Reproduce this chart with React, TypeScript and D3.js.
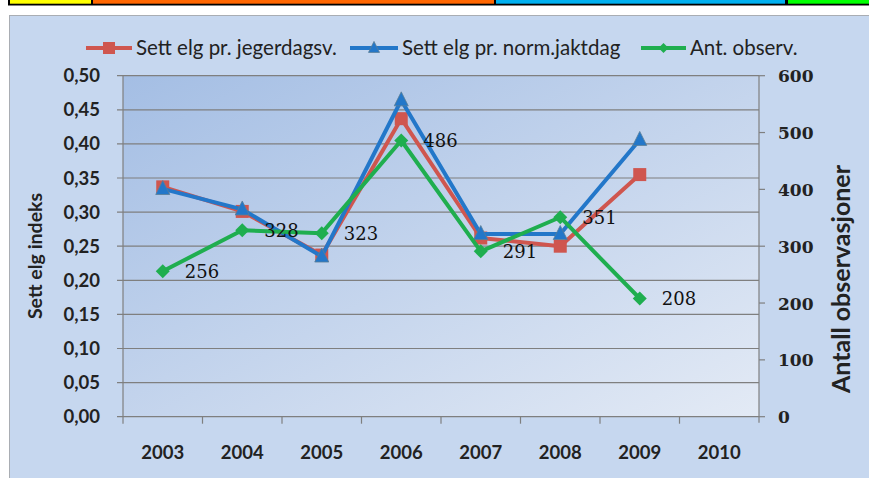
import React from 'react';
import * as d3 from 'd3';

const years = ['2003', '2004', '2005', '2006', '2007', '2008', '2009', '2010'];
const jegerdagsv = [0.337, 0.301, 0.237, 0.437, 0.262, 0.25, 0.355];
const normJaktdag = [0.334, 0.304, 0.235, 0.464, 0.268, 0.268, 0.406];
const observ = [256, 328, 323, 486, 291, 351, 208];
const leftTicks = [0, 0.05, 0.1, 0.15, 0.2, 0.25, 0.3, 0.35, 0.4, 0.45, 0.5];
const rightTicks = [0, 100, 200, 300, 400, 500, 600];

const RED = '#cf564f';
const BLUE = '#2377c9';
const GREEN = '#1fae4f';
const SANS = 'Lato, "Open Sans", sans-serif';
const SERIF = '"DejaVu Serif", serif';

export default function App() {
  const W = 869;
  const H = 478;
  const plot = { left: 123, right: 759, top: 75.7, bottom: 416.7 };

  const x = d3.scaleBand<string>().domain(years).range([plot.left, plot.right]);
  const cx = (i: number) => (x(years[i]) as number) + x.bandwidth() / 2;
  const yL = d3.scaleLinear().domain([0, 0.5]).range([plot.bottom, plot.top]);
  const yR = d3.scaleLinear().domain([0, 600]).range([plot.bottom, plot.top]);

  const lineL = d3.line<number>().x((_, i) => cx(i)).y(d => yL(d));
  const lineR = d3.line<number>().x((_, i) => cx(i)).y(d => yR(d));
  const fmt = (v: number) => d3.format('.2f')(v).replace('.', ',');

  const square = (px: number, py: number, s = 13) => (
    <rect x={px - s / 2} y={py - s / 2} width={s} height={s} fill={RED} />
  );
  const triangle = (px: number, py: number, s = 14) => (
    <path
      d={`M${px},${py - s * 0.6}L${px + s / 2},${py + s * 0.4}L${px - s / 2},${py + s * 0.4}Z`}
      fill={BLUE}
      stroke="#5b7d95"
      strokeWidth={0.8}
    />
  );
  const diamond = (px: number, py: number, s = 7) => (
    <path d={`M${px},${py - s}L${px + s},${py}L${px},${py + s}L${px - s},${py}Z`} fill={GREEN} />
  );

  // legend entries: line start, line width, text start
  const legend = [
    { x: 86, w: 46, tx: 136, color: RED, label: 'Sett elg pr. jegerdagsv.', mark: square, s: 12 },
    { x: 350, w: 48, tx: 402, color: BLUE, label: 'Sett elg pr. norm.jaktdag', mark: triangle, s: 11 },
    { x: 641, w: 45, tx: 690, color: GREEN, label: 'Ant. observ.', mark: diamond, s: 5 },
  ];

  return (
    <svg
      width={W}
      height={H}
      style={{ position: 'fixed', left: 0, top: 0, background: '#fff' }}
      viewBox={`0 0 ${W} ${H}`}
    >
      <defs>
        <linearGradient id="plotBg" x1="0" y1="0" x2="1" y2="1">
          <stop offset="0%" stopColor="#a4bee4" />
          <stop offset="100%" stopColor="#e3eaf5" />
        </linearGradient>
      </defs>

      {/* top colour strip */}
      <rect x={8} y={-6} width={870} height={11.5} fill="#000" />
      <rect x={10} y={-6} width={81} height={9.7} fill="#ffff00" />
      <rect x={93} y={-6} width={401} height={9.7} fill="#ff6600" />
      <rect x={496} y={-6} width={289} height={9.7} fill="#00b0f0" />
      <rect x={788} y={-6} width={90} height={9.7} fill="#00ff00" />

      {/* panel */}
      <rect x={9.5} y={15.5} width={880} height={480} fill="#c6d7ef" stroke="#a9adb3" />
      <rect
        x={plot.left}
        y={plot.top}
        width={plot.right - plot.left}
        height={plot.bottom - plot.top}
        fill="url(#plotBg)"
      />

      {/* legend */}
      {legend.map(l => (
        <g key={l.label}>
          <line x1={l.x} x2={l.x + l.w} y1={48} y2={48} stroke={l.color} strokeWidth={4} />
          {l.mark(l.x + l.w / 2, 48, l.s)}
          <text x={l.tx} y={55} fontFamily={SANS} fontSize={20.5} fill="#222">
            {l.label}
          </text>
        </g>
      ))}

      {/* grid + left axis */}
      {leftTicks.map(t => (
        <g key={t}>
          <line x1={plot.left - 6} x2={plot.right} y1={yL(t)} y2={yL(t)} stroke="#7f7f7f" strokeWidth={1.2} />
          <text
            x={100}
            y={yL(t) + 6.5}
            textAnchor="end"
            fontFamily={SANS}
            fontWeight="bold"
            fontSize={18.5}
            fill="#222"
          >
            {fmt(t)}
          </text>
        </g>
      ))}
      <line x1={plot.left} x2={plot.left} y1={plot.top} y2={plot.bottom} stroke="#7f7f7f" strokeWidth={1.2} />

      {/* right axis */}
      <line x1={plot.right} x2={plot.right} y1={plot.top} y2={plot.bottom + 6} stroke="#7f7f7f" strokeWidth={1.2} />
      {rightTicks.map(t => (
        <g key={t}>
          <line x1={plot.right} x2={plot.right + 6} y1={yR(t)} y2={yR(t)} stroke="#7f7f7f" strokeWidth={1.2} />
          <text x={778} y={yR(t) + 6.5} fontFamily={SERIF} fontWeight="bold" fontSize={17} fill="#222">
            {t}
          </text>
        </g>
      ))}

      {/* x axis */}
      {years.map(yr => (
        <g key={yr}>
          <line
            x1={x(yr) as number}
            x2={x(yr) as number}
            y1={plot.bottom}
            y2={plot.bottom + 7}
            stroke="#7f7f7f"
            strokeWidth={1.2}
          />
          <text
            x={(x(yr) as number) + x.bandwidth() / 2}
            y={459}
            textAnchor="middle"
            fontFamily={SANS}
            fontWeight="bold"
            fontSize={18.5}
            fill="#222"
          >
            {yr}
          </text>
        </g>
      ))}

      {/* axis titles */}
      <text
        transform="translate(42,256) rotate(-90)"
        textAnchor="middle"
        fontFamily={SANS}
        fontWeight="bold"
        fontSize={19.5}
        fill="#222"
      >
        Sett elg indeks
      </text>
      <text
        transform="translate(850,279) rotate(-90)"
        textAnchor="middle"
        fontFamily={SANS}
        fontWeight="bold"
        fontSize={25}
        fill="#222"
      >
        Antall observasjoner
      </text>

      {/* series */}
      <path d={lineL(jegerdagsv) as string} fill="none" stroke={RED} strokeWidth={4} strokeLinejoin="round" />
      {jegerdagsv.map((v, i) => (
        <g key={'r' + i}>{square(cx(i), yL(v))}</g>
      ))}
      <path d={lineL(normJaktdag) as string} fill="none" stroke={BLUE} strokeWidth={4} strokeLinejoin="round" />
      {normJaktdag.map((v, i) => (
        <g key={'b' + i}>{triangle(cx(i), yL(v))}</g>
      ))}
      <path d={lineR(observ) as string} fill="none" stroke={GREEN} strokeWidth={4} strokeLinejoin="round" />
      {observ.map((v, i) => (
        <g key={'g' + i}>
          {diamond(cx(i), yR(v))}
          <text x={cx(i) + 22} y={yR(v) + 7} fontFamily={SERIF} fontSize={18} fill="#111">
            {v}
          </text>
        </g>
      ))}
    </svg>
  );
}
